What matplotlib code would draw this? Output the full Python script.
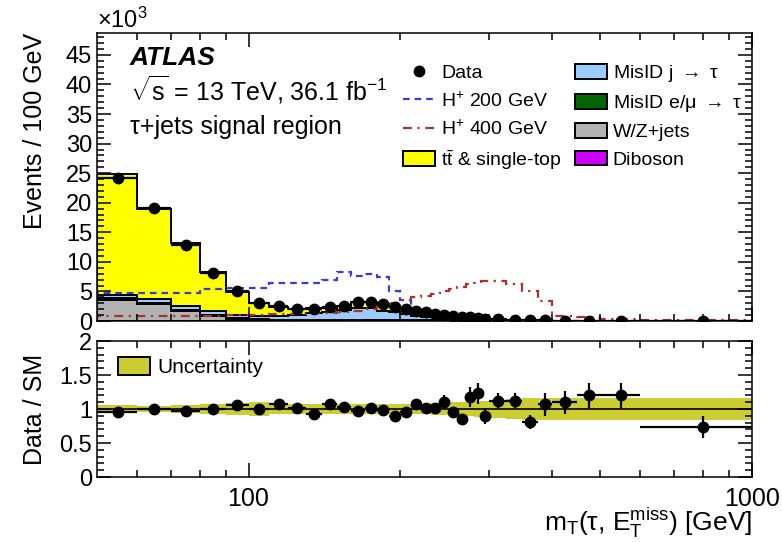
import numpy as np
import matplotlib
matplotlib.use("Agg")
import matplotlib.pyplot as plt
from matplotlib.lines import Line2D
from matplotlib.patches import Patch
from matplotlib.ticker import MultipleLocator, NullFormatter

plt.rcParams['font.family'] = ['Liberation Sans', 'DejaVu Sans']
plt.rcParams['mathtext.fontset'] = 'custom'
plt.rcParams['mathtext.rm'] = 'Liberation Sans'
plt.rcParams['mathtext.it'] = 'Liberation Sans:italic'
plt.rcParams['mathtext.bf'] = 'Liberation Sans:bold'

# --- bin edges (GeV) ---
edges = [50, 60, 70, 80, 90, 100, 110, 120, 130, 140, 150, 160, 170, 180, 190,
         200, 210, 220, 230, 240, 250, 260, 270, 280, 290, 300, 325, 350, 375,
         400, 450, 500, 600, 1000]

# --- top panel, events / 100 GeV in units of 10^3 ---
data = [24.2, 19.1, 12.8, 8.2, 5.1, 3.1, 2.5, 2.0, 2.1, 2.3, 2.6, 3.2, 3.2, 2.8,
        2.4, 2.1, 1.75, 1.5, 1.25, 1.05, 0.85, 0.7, 0.62, 0.5, 0.42, 0.33, 0.22,
        0.13, 0.1, 0.06, 0.04, 0.02, 0.005]
diboson = [0.05, 0.04, 0.03, 0.02, 0.015, 0.01, 0.01, 0.01, 0.01, 0.01, 0.01,
           0.01, 0.01, 0.01, 0.01, 0.01, 0.008, 0.007, 0.006, 0.005, 0.004,
           0.004, 0.003, 0.003, 0.002, 0.002, 0.001, 0.001, 0.001, 0.0005,
           0.0005, 0.0002, 0.0001]
wzjets = [3.5, 2.8, 1.7, 0.9, 0.35, 0.2, 0.15, 0.12, 0.12, 0.12, 0.12, 0.12,
          0.12, 0.1, 0.1, 0.09, 0.08, 0.07, 0.06, 0.05, 0.04, 0.035, 0.03,
          0.025, 0.02, 0.018, 0.012, 0.008, 0.006, 0.004, 0.003, 0.002, 0.001]
misid_lep = [0.3, 0.25, 0.2, 0.15, 0.1, 0.08, 0.06, 0.05, 0.05, 0.05, 0.05,
             0.05, 0.05, 0.05, 0.04, 0.04, 0.03, 0.03, 0.025, 0.02, 0.02,
             0.015, 0.012, 0.01, 0.01, 0.008, 0.006, 0.004, 0.003, 0.002,
             0.001, 0.001, 0.0005]
misid_jet = [0.6, 0.6, 0.6, 0.55, 0.55, 0.6, 0.7, 0.9, 1.1, 1.4, 1.7, 2.0, 2.0,
             1.6, 1.4, 1.0, 0.8, 0.65, 0.55, 0.45, 0.38, 0.3, 0.25, 0.2, 0.17,
             0.12, 0.08, 0.05, 0.035, 0.02, 0.012, 0.006, 0.0015]
ttbar = [20.45, 15.3, 10.6, 6.7, 3.9, 2.1, 1.4, 0.9, 0.9, 0.6, 0.6, 1.0, 1.0,
         1.05, 1.05, 1.05, 0.75, 0.74, 0.6, 0.43, 0.44, 0.45, 0.26, 0.19, 0.25,
         0.15, 0.1, 0.1, 0.05, 0.03, 0.017, 0.008, 0.005]
hp200 = [4.7, 4.7, 4.7, 5.4, 5.5, 5.6, 6.5, 6.5, 6.5, 7.0, 8.3, 7.6, 8.0, 7.5,
         5.1, 3.6, 2.0, 1.4, 1.1, 0.85, 0.7, 0.55, 0.45, 0.35, 0.3, 0.22, 0.15,
         0.1, 0.07, 0.04, 0.025, 0.012, 0.004]
hp400 = [0.85, 0.85, 0.9, 0.9, 0.95, 1.0, 1.1, 1.2, 1.3, 1.4, 1.5, 1.7, 2.0,
         2.5, 3.0, 3.6, 4.0, 4.3, 4.6, 5.0, 5.4, 5.8, 6.2, 6.5, 6.8, 6.7, 6.3,
         5.0, 3.4, 0.9, 0.6, 0.3, 0.1]

# --- ratio panel ---
ratio = [0.96, 1.00, 0.97, 1.00, 1.06, 1.00, 1.08, 1.01, 0.92, 1.07, 1.03,
         0.97, 1.01, 0.99, 0.90, 0.96, 1.07, 1.01, 1.01, 1.11, 0.96, 0.85,
         1.18, 1.23, 0.90, 1.12, 1.12, 0.81, 1.07, 1.10, 1.20, 1.20, 0.74]
ratio_err = [0.02, 0.02, 0.02, 0.03, 0.03, 0.03, 0.03, 0.04, 0.04, 0.04, 0.04,
             0.04, 0.04, 0.04, 0.04, 0.04, 0.05, 0.05, 0.05, 0.1, 0.07, 0.07,
             0.15, 0.15, 0.12, 0.11, 0.11, 0.1, 0.17, 0.17, 0.18, 0.18, 0.16]
syst = [0.06, 0.05, 0.06, 0.07, 0.09, 0.10, 0.08, 0.07, 0.07, 0.07, 0.07, 0.07,
        0.07, 0.07, 0.07, 0.08, 0.08, 0.08, 0.09, 0.09, 0.10, 0.10, 0.11, 0.12,
        0.12, 0.13, 0.15, 0.16, 0.16, 0.16, 0.16, 0.16, 0.16]

edges_a = np.array(edges, dtype=float)
centers = 0.5 * (edges_a[1:] + edges_a[:-1])
halfw = 0.5 * (edges_a[1:] - edges_a[:-1])

W, H = 782, 542
fig = plt.figure(figsize=(W / 100, H / 100), dpi=100)
ax = fig.add_axes([97 / W, 1 - 321 / H, 655 / W, 288 / H])
ax2 = fig.add_axes([97 / W, 1 - 477 / H, 655 / W, 136 / H])

# stacked backgrounds
comps = [(diboson, '#cc00ff'), (wzjets, '#b3b3b3'), (misid_lep, '#006600'),
         (misid_jet, '#99ccff'), (ttbar, '#ffff00')]
base = np.zeros(len(data))
for vals, col in comps:
    top = base + np.array(vals)
    ax.stairs(top, edges_a, baseline=base, fill=True, facecolor=col,
              edgecolor='black', linewidth=1.4)
    base = top

ax.stairs(hp200, edges_a, color='#3a3ad6', linestyle=(0, (3, 2.2)), linewidth=1.6)
ax.stairs(hp400, edges_a, color='#a83232', linestyle=(0, (4, 2.5, 1, 2.5)), linewidth=1.6)

ax.errorbar(centers, data, xerr=halfw, fmt='o', color='black', ms=7.5,
            elinewidth=1.6, capsize=0)

# ratio panel
syst_a = np.array(syst)
ax2.stairs(1 + syst_a, edges_a, baseline=1 - syst_a, fill=True, color='#cccc33')
ax2.axhline(1, color='black', lw=1.2)
ax2.errorbar(centers, ratio, xerr=halfw, yerr=ratio_err, fmt='o', color='black',
             ms=7.5, elinewidth=1.6, capsize=0)

for a in (ax, ax2):
    a.set_xscale('log')
    a.set_xlim(50, 1000)
    a.set_xticks([100, 1000])
    a.set_xticks([60, 70, 80, 90, 200, 300, 400, 500, 600, 700, 800, 900], minor=True)
    a.xaxis.set_minor_formatter(NullFormatter())
    a.tick_params(which='both', direction='in', top=True, right=True,
                  labelsize=17, width=1.1)
    a.tick_params(which='major', length=10)
    a.tick_params(which='minor', length=5)
    for s in a.spines.values():
        s.set_linewidth(1.1)

ax.set_xticklabels([])
ax2.set_xticklabels(['100', '1000'])
ax2.tick_params(axis='x', pad=7, labelsize=18)

ax.set_ylim(0, 48.7)
ax.yaxis.set_major_locator(MultipleLocator(5))
ax.yaxis.set_minor_locator(MultipleLocator(1))
ax.set_ylabel('Events / 100 GeV', fontsize=18, ha='right')
ax.yaxis.set_label_coords(-0.076, 1.0)

ax2.set_ylim(0, 2)
ax2.set_yticks([0, 0.5, 1, 1.5, 2])
ax2.set_yticklabels(['0', '0.5', '1', '1.5', '2'])
ax2.yaxis.set_minor_locator(MultipleLocator(0.1))
ax2.set_ylabel('Data / SM', fontsize=18)
ax2.yaxis.set_label_coords(-0.076, 0.5)
ax2.set_xlabel(r'm$_{\mathrm{T}}$(τ, E$_{\mathrm{T}}^{\mathrm{miss}}$) [GeV]',
               fontsize=19, ha='right', va='top')
ax2.xaxis.set_label_coords(1.0, -0.215)

fig.text(97 / W, 1 - 28 / H, r'$\times$10$^{3}$', fontsize=17, ha='left', va='baseline')

ax.text(0.05, 0.89, 'ATLAS', transform=ax.transAxes, fontsize=19,
        fontweight='bold', fontstyle='italic', va='baseline')
ax.text(0.05, 0.765, r'$\sqrt{\mathrm{s}}$ = 13 TeV, 36.1 fb$^{\mathrm{-1}}$',
        transform=ax.transAxes, fontsize=18, va='baseline')
ax.text(0.05, 0.65, 'τ+jets signal region', transform=ax.transAxes,
        fontsize=18, va='baseline')

handles = [
    Line2D([], [], marker='o', color='black', ls='none', ms=7.5),
    Line2D([], [], color='#3a3ad6', ls=(0, (3, 2.2)), lw=1.6),
    Line2D([], [], color='#a83232', ls=(0, (4, 2.5, 1, 2.5)), lw=1.6),
    Patch(facecolor='#ffff00', edgecolor='black', lw=1.4),
    Patch(facecolor='#99ccff', edgecolor='black', lw=1.4),
    Patch(facecolor='#006600', edgecolor='black', lw=1.4),
    Patch(facecolor='#b3b3b3', edgecolor='black', lw=1.4),
    Patch(facecolor='#cc00ff', edgecolor='black', lw=1.4),
]
labels = ['Data', r'H$^{+}$ 200 GeV', r'H$^{+}$ 400 GeV',
          r'$\mathrm{t\bar{t}}$ & single-top', r'MisID j $\rightarrow$ τ',
          r'MisID e/μ $\rightarrow$ τ', 'W/Z+jets', 'Diboson']
fig.legend(handles, labels, loc='upper left', bbox_to_anchor=(403 / W, 1 - 63 / H),
           ncol=2, frameon=False, fontsize=14, handlelength=1.65,
           handleheight=0.8, handletextpad=0.3, labelspacing=0.47,
           columnspacing=0.7, borderpad=0, borderaxespad=0)

ax2.legend([Patch(facecolor='#cccc33', edgecolor='black', lw=1.4)], ['Uncertainty'],
           loc='upper left', bbox_to_anchor=(118 / W, 1 - 357 / H),
           bbox_transform=fig.transFigure, frameon=False, fontsize=15,
           handlelength=1.55, handleheight=0.95, handletextpad=0.35,
           borderpad=0, borderaxespad=0)

fig.savefig('out.png', dpi=100)
